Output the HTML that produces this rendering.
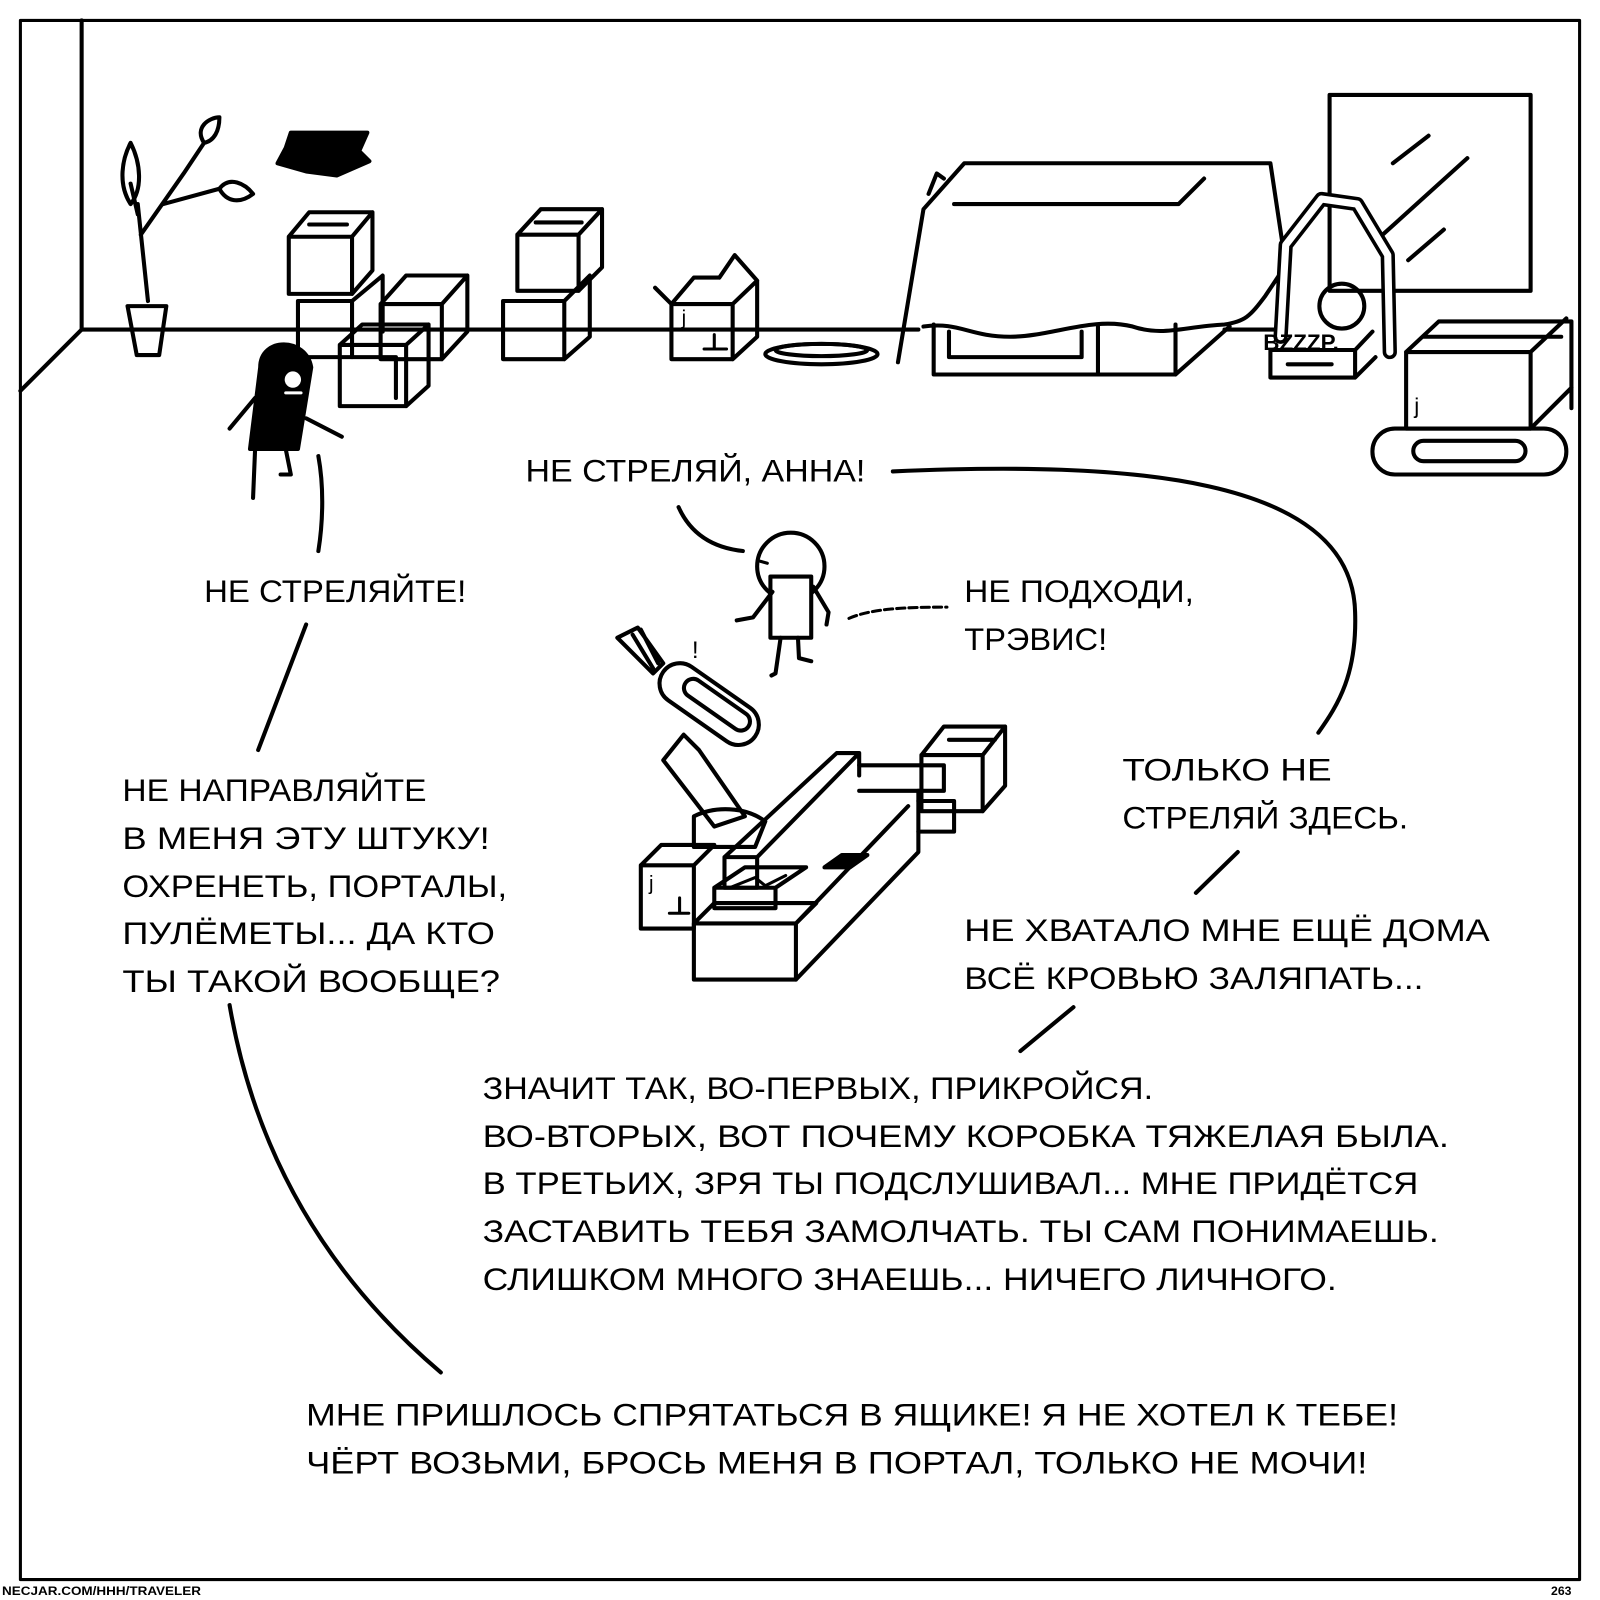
<!DOCTYPE html>
<html><head><meta charset="utf-8"><style>
html,body{margin:0;padding:0;background:#fff}
svg{display:block}
text{font-family:"Liberation Sans","DejaVu Sans",sans-serif;font-size:31px;fill:#000}
</style></head><body>
<svg width="1600" height="1600" viewBox="0 0 1568 1568" xmlns="http://www.w3.org/2000/svg">
<g fill="none" stroke="#000" stroke-width="4" stroke-linejoin="round" stroke-linecap="round">
<rect x="20" y="20" width="1528" height="1528" stroke-width="3"/>
<line x1="80" y1="20" x2="80" y2="323"/>
<line x1="80" y1="323" x2="20" y2="383"/>
<line x1="80" y1="323" x2="900" y2="323"/>
<line x1="1200" y1="323" x2="1260" y2="323"/>
<path d="M145 295 L135 200 M138 230 L180 170 L200 140 M160 200 L215 185 M135 210 L128 180"/>
<path d="M128 200 C115 180 120 155 128 140 C138 160 140 185 128 200Z"/>
<path d="M200 140 C190 125 205 115 215 115 C215 128 210 138 200 140Z"/>
<path d="M215 185 C225 172 240 180 248 190 C235 200 222 198 215 185Z"/>
<path d="M125 300 L163 300 L156 348 L134 348Z"/>
<path d="M285 130 L360 130 L352 148 L362 158 L330 172 L300 168 L272 160 L280 145Z" fill="#000"/>
<path d="M283 232 L303 208 L365 208 L345 232Z M283 232 L345 232 L345 288 L283 288Z M345 232 L365 208 L365 265 L345 288"/>
<path d="M303 220 L340 220"/>
<path d="M292 295 L345 295 L345 350 L292 350Z M345 295 L375 270 L375 325"/>
<path d="M373 298 L398 270 L458 270 L433 298Z M373 298 L433 298 L433 352 L373 352Z M433 298 L458 270 L458 325 L433 352"/>
<path d="M333 338 L355 318 L420 318 L398 338Z M333 338 L398 338 L398 398 L333 398Z M398 338 L420 318 L420 378 L398 398 M345 350 L388 350 L388 390"/>
<path d="M507 230 L530 205 L590 205 L567 230Z M507 230 L567 230 L567 285 L507 285Z M567 230 L590 205 L590 262 L567 285 M525 218 L570 218"/>
<path d="M493 295 L553 295 L553 352 L493 352Z M553 295 L578 270 L578 330 L553 352"/>
<path d="M658 298 L718 298 L718 352 L658 352Z M718 298 L742 275 L742 330 L718 352 M658 298 L680 272 L705 272 M642 282 L658 298 M705 272 L720 250 L742 275"/>
<text x="668" y="318" style="font-size:20px;stroke:none">j</text>
<path d="M700 328 L700 342 M690 342 L712 342" stroke-width="3"/>
<ellipse cx="805" cy="347" rx="55" ry="10"/>
<ellipse cx="805" cy="343" rx="45" ry="6"/>
<path d="M880 355 L905 205 L945 160 L1245 160 L1260 260 L1240 290 C1225 310 1220 315 1200 318 C1160 320 1140 330 1110 320 C1070 310 1030 330 990 330 C950 330 940 315 905 320"/>
<path d="M935 200 L1155 200 L1180 175"/>
<path d="M910 190 L918 170 L925 175"/>
<path d="M915 318 L915 367 L1152 367 L1152 318 M930 325 L930 350 L1060 350 L1060 325 M1076 320 L1076 367 M1152 367 L1205 320"/>
<rect x="1303" y="93" width="197" height="192"/>
<path d="M1365 160 L1400 133 M1355 230 L1438 155 M1380 255 L1415 225"/>
<path d="M1255 330 L1260 240 L1295 195 L1330 200 L1360 250 L1362 345" stroke-width="14"/>
<path d="M1255 330 L1260 240 L1295 195 L1330 200 L1360 250 L1362 345" stroke="#fff" stroke-width="7"/>
<circle cx="1315" cy="300" r="22"/>
<path d="M1245 343 L1328 343 L1328 370 L1245 370Z M1328 343 L1345 325 M1328 370 L1348 350 M1262 357 L1305 357"/>
<text x="1238" y="343" style="font-size:22px;font-weight:bold;stroke:none">BZZZP.</text>
<path d="M1378 345 L1410 315 L1540 315 L1540 400 M1378 345 L1378 420 L1500 420 L1500 345 L1378 345 M1500 345 L1535 312 M1395 330 L1530 330 M1500 420 L1540 380"/>
<text x="1386" y="405" style="font-size:22px;stroke:none">j</text>
<rect x="1345" y="420" width="190" height="45" rx="22"/>
<rect x="1385" y="432" width="110" height="20" rx="10"/>
<path d="M255 360 C255 330 300 330 305 360 L292 440 L245 440Z" fill="#000"/>
<circle cx="287" cy="372" r="8" fill="#fff" stroke="none"/>
<path d="M280 385 L295 385" stroke="#fff" stroke-width="3"/>
<path d="M250 390 L225 420 M300 410 L335 428 M250 440 L248 488 M280 440 L285 465 L275 465"/>
<circle cx="775" cy="555" r="33"/>
<rect x="755" y="565" width="40" height="60" fill="#fff"/>
<path d="M757 580 L738 605 L722 608 M797 575 L812 600 L810 612 M765 625 L760 660 L756 662 M782 625 L783 645 L795 648"/>
<path d="M745 550 L752 552" stroke-width="3"/>
<text x="678" y="645" style="font-size:24px;stroke:none">!</text>
<path d="M605 625 L625 615 L650 650 L640 660Z M620 622 L640 655 M628 617 L645 650"/>
<rect x="640" y="670" width="110" height="40" rx="20" transform="rotate(35 695 690)"/>
<rect x="665" y="680" width="75" height="18" rx="9" transform="rotate(35 700 690)"/>
<path d="M670 720 L650 745 L700 810 L730 800 L685 735 Z"/>
<path d="M680 800 C700 790 730 790 750 805 L740 830 L680 830Z"/>
<path d="M628 848 L648 828 L700 828 L680 848Z M628 848 L680 848 L680 910 L628 910Z"/>
<text x="636" y="872" style="font-size:20px;stroke:none">j</text>
<path d="M666 880 L666 895 M656 895 L675 895" stroke-width="3"/>
<path d="M710 840 L820 738 L842 738 L742 840Z M710 840 L710 870 L742 870 L742 840 M842 738 L842 760"/>
<path d="M842 750 L925 750 L925 775 L842 775"/>
<path d="M680 905 L700 885 L800 885 L780 905Z M680 905 L780 905 L780 960 L680 960Z M780 960 L900 835 L900 775 M780 905 L890 790"/>
<path d="M700 870 L730 850 L790 850 L760 870Z M700 870 L760 870 L760 890 L700 890Z"/>
<path d="M715 870 L740 860 L750 868 L770 858" stroke-width="3"/>
<path d="M808 850 L825 838 L850 838 L833 850Z" fill="#000"/>
<path d="M903 740 L925 712 L985 712 L963 740Z M903 740 L963 740 L963 795 L903 795Z M963 740 L985 712 L985 770 L963 795 M930 725 L975 725"/>
<path d="M900 785 L935 785 L935 815 L900 815"/>
<path d="M875 462 C1100 452 1325 465 1328 600 C1330 660 1312 690 1292 718"/>
<path d="M665 497 Q682 535 728 540"/>
<path d="M832 606 C855 596 890 595 928 595" stroke-dasharray="8 4" stroke-width="3"/>
<path d="M312 447 C318 480 316 515 312 540"/>
<path d="M300 612 L253 735"/>
<path d="M1213 835 L1172 875"/>
<path d="M1052 987 L1000 1030"/>
<path d="M225 985 C250 1130 320 1250 432 1345"/>
</g>
<g>
<text x="515" y="472" textLength="333" lengthAdjust="spacingAndGlyphs">НЕ СТРЕЛЯЙ, АННА!</text>
<text x="200" y="590" textLength="257" lengthAdjust="spacingAndGlyphs">НЕ СТРЕЛЯЙТЕ!</text>
<text x="945" y="590" textLength="225" lengthAdjust="spacingAndGlyphs">НЕ ПОДХОДИ,</text>
<text x="945" y="637" textLength="140" lengthAdjust="spacingAndGlyphs">ТРЭВИС!</text>
<text x="1100" y="765" textLength="205" lengthAdjust="spacingAndGlyphs">ТОЛЬКО НЕ</text>
<text x="1100" y="812" textLength="280" lengthAdjust="spacingAndGlyphs">СТРЕЛЯЙ ЗДЕСЬ.</text>
<text x="120" y="785" textLength="298" lengthAdjust="spacingAndGlyphs">НЕ НАПРАВЛЯЙТЕ</text>
<text x="120" y="832" textLength="360" lengthAdjust="spacingAndGlyphs">В МЕНЯ ЭТУ ШТУКУ!</text>
<text x="120" y="879" textLength="377" lengthAdjust="spacingAndGlyphs">ОХРЕНЕТЬ, ПОРТАЛЫ,</text>
<text x="120" y="925" textLength="365" lengthAdjust="spacingAndGlyphs">ПУЛЁМЕТЫ... ДА КТО</text>
<text x="120" y="972" textLength="370" lengthAdjust="spacingAndGlyphs">ТЫ ТАКОЙ ВООБЩЕ?</text>
<text x="945" y="922" textLength="515" lengthAdjust="spacingAndGlyphs">НЕ ХВАТАЛО МНЕ ЕЩЁ ДОМА</text>
<text x="945" y="969" textLength="450" lengthAdjust="spacingAndGlyphs">ВСЁ КРОВЬЮ ЗАЛЯПАТЬ...</text>
<text x="473" y="1077" textLength="657" lengthAdjust="spacingAndGlyphs">ЗНАЧИТ ТАК, ВО-ПЕРВЫХ, ПРИКРОЙСЯ.</text>
<text x="473" y="1124" textLength="947" lengthAdjust="spacingAndGlyphs">ВО-ВТОРЫХ, ВОТ ПОЧЕМУ КОРОБКА ТЯЖЕЛАЯ БЫЛА.</text>
<text x="473" y="1170" textLength="917" lengthAdjust="spacingAndGlyphs">В ТРЕТЬИХ, ЗРЯ ТЫ ПОДСЛУШИВАЛ... МНЕ ПРИДЁТСЯ</text>
<text x="473" y="1217" textLength="937" lengthAdjust="spacingAndGlyphs">ЗАСТАВИТЬ ТЕБЯ ЗАМОЛЧАТЬ. ТЫ САМ ПОНИМАЕШЬ.</text>
<text x="473" y="1264" textLength="837" lengthAdjust="spacingAndGlyphs">СЛИШКОМ МНОГО ЗНАЕШЬ... НИЧЕГО ЛИЧНОГО.</text>
<text x="300" y="1397" textLength="1070" lengthAdjust="spacingAndGlyphs">МНЕ ПРИШЛОСЬ СПРЯТАТЬСЯ В ЯЩИКЕ! Я НЕ ХОТЕЛ К ТЕБЕ!</text>
<text x="300" y="1444" textLength="1040" lengthAdjust="spacingAndGlyphs">ЧЁРТ ВОЗЬМИ, БРОСЬ МЕНЯ В ПОРТАЛ, ТОЛЬКО НЕ МОЧИ!</text>
<text x="2" y="1563" style="font-size:12px;font-weight:bold" textLength="195" lengthAdjust="spacingAndGlyphs">NECJAR.COM/HHH/TRAVELER</text>
<text x="1520" y="1563" style="font-size:12px;font-weight:bold">263</text>
</g>
</svg>
</body></html>
